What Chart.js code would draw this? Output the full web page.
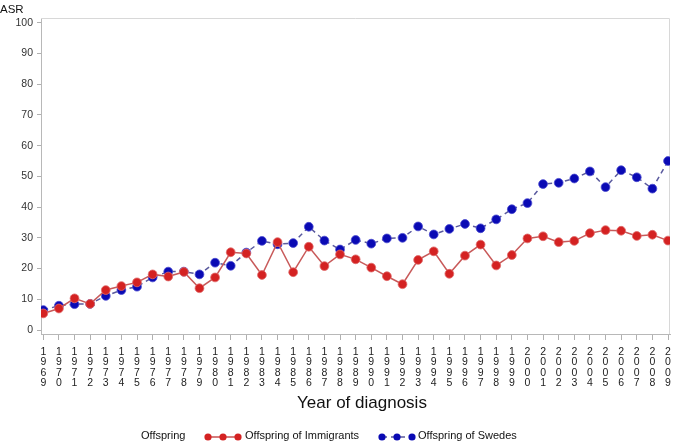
<!DOCTYPE html>
<html>
<head>
<meta charset="utf-8">
<script src="https://cdn.jsdelivr.net/npm/chart.js@4.4.1/dist/chart.umd.min.js"></script>
<style>
  html, body { margin: 0; padding: 0; background: #fff; }
  #wrap { position: relative; width: 675px; height: 443px; overflow: hidden; }
  #chart { position: absolute; left: 0; top: 0; }
  .txt { position: absolute; font-family: "Liberation Sans", Arial, sans-serif; color: #111; white-space: nowrap; }
  #asr { left: 0; top: 3px; font-size: 11.5px; }
  #xtitle { left: 0; width: 724px; top: 393px; text-align: center; font-size: 17px; }
  .leg { top: 429px; font-size: 11px; }
  .legsym { position: absolute; top: 431px; }
</style>
</head>
<body>
<div id="wrap">
  <canvas id="chart" width="675" height="443"></canvas>
  <div class="txt" id="asr">ASR</div>
  <div class="txt" id="xtitle">Year of diagnosis</div>
  <div class="txt leg" style="left:141px">Offspring</div>
  <svg class="legsym" style="left:203px" width="40" height="12">
    <line x1="5" y1="6" x2="35" y2="6" stroke="#c85050" stroke-width="1.5"/>
    <circle cx="5" cy="6" r="3.6" fill="#d42222"/>
    <circle cx="20" cy="6" r="3.6" fill="#d42222"/>
    <circle cx="35" cy="6" r="3.6" fill="#d42222"/>
  </svg>
  <div class="txt leg" style="left:245px">Offspring of Immigrants</div>
  <svg class="legsym" style="left:377px" width="40" height="12">
    <line x1="5" y1="6" x2="35" y2="6" stroke="#5a5a9a" stroke-width="1.5" stroke-dasharray="5,4"/>
    <circle cx="5" cy="6" r="3.6" fill="#0a0ab4"/>
    <circle cx="20" cy="6" r="3.6" fill="#0a0ab4"/>
    <circle cx="35" cy="6" r="3.6" fill="#0a0ab4"/>
  </svg>
  <div class="txt leg" style="left:418px">Offspring of Swedes</div>
</div>
<script>
// years of diagnosis
var years = [];
for (var y = 1969; y <= 2009; y++) years.push(y);

// age standardised rates
var immigrants = [5.4, 7.0, 10.3, 8.5, 13.0, 14.3, 15.5, 18.1, 17.4, 18.9,
                  13.6, 17.1, 25.3, 24.9, 17.9, 28.6, 18.8, 27.1, 20.8, 24.6,
                  23.0, 20.3, 17.5, 14.9, 22.8, 25.6, 18.3, 24.2, 27.8, 21.0,
                  24.4, 29.8, 30.5, 28.6, 29.0, 31.5, 32.5, 32.3, 30.6, 31.0, 29.1];
var swedes = [6.5, 7.9, 8.4, 8.5, 11.1, 13.0, 14.1, 17.1, 19.0, 19.0,
              18.1, 21.9, 20.9, 25.2, 29.0, 27.9, 28.3, 33.6, 29.1, 26.2,
              29.3, 28.1, 29.8, 30.0, 33.7, 31.1, 32.9, 34.5, 33.1, 36.0,
              39.3, 41.3, 47.5, 47.9, 49.3, 51.6, 46.5, 52.0, 49.7, 46.0, 55.0];

var yTicks = [0, 10, 20, 30, 40, 50, 60, 70, 80, 90, 100];

function pairs(vals) {
  var out = [];
  for (var i = 0; i < years.length; i++) out.push({x: years[i], y: vals[i]});
  return out;
}

// light frame round the plot area
var framePlugin = {
  id: 'frame',
  beforeDatasetsDraw: function(chart) {
    var a = chart.chartArea, c = chart.ctx;
    c.save();
    c.strokeStyle = '#d8d8d8';
    c.lineWidth = 1;
    c.beginPath();
    c.moveTo(a.left, a.top + 0.5);
    c.lineTo(a.right - 0.5, a.top + 0.5);
    c.lineTo(a.right - 0.5, a.bottom);
    c.stroke();
    c.restore();
  }
};

var ctx = document.getElementById('chart').getContext('2d');
var myChart = new Chart(ctx, {
  type: 'line',
  data: {
    datasets: [
      {
        label: 'Offspring of Immigrants',
        data: pairs(immigrants),
        borderColor: '#c85a5a',
        borderWidth: 1.5,
        backgroundColor: '#d42222',
        pointBackgroundColor: '#d42222',
        pointBorderColor: '#e06a6a',
        pointBorderWidth: 0.8,
        pointRadius: 4.4,
        tension: 0
      },
      {
        label: 'Offspring of Swedes',
        data: pairs(swedes),
        borderColor: '#5a5a9e',
        borderWidth: 1.5,
        borderDash: [5, 4],
        backgroundColor: '#0a0ab4',
        pointBackgroundColor: '#0a0ab4',
        pointBorderColor: '#4a4ad0',
        pointBorderWidth: 0.8,
        pointRadius: 4.4,
        tension: 0
      }
    ]
  },
  options: {
    responsive: false,
    animation: false,
    layout: { autoPadding: false, padding: { left: 0, top: 18, right: 5, bottom: 49 } },
    plugins: { legend: { display: false }, tooltip: { enabled: false } },
    scales: {
      x: {
        type: 'linear',
        min: 1968.853,
        max: 2009.128,
        afterFit: function(scale) {
          scale.height = 60;
          scale.paddingLeft = 0;
          scale.paddingRight = 0;
        },
        afterBuildTicks: function(scale) {
          scale.ticks = years.map(function(v) { return {value: v}; });
        },
        ticks: {
          autoSkip: false,
          maxRotation: 0,
          padding: 7,
          color: '#222',
          font: { family: '"Liberation Sans", Arial', size: 10.5, lineHeight: 0.98 },
          callback: function(v) { return String(v).split(''); }
        },
        grid: { drawOnChartArea: false, tickLength: 6, color: '#b0b0b0' },
        border: { color: '#b8b8b8' }
      },
      y: {
        min: -1.3,
        max: 101.53,
        afterFit: function(scale) { scale.width = 41; },
        afterBuildTicks: function(scale) {
          scale.ticks = yTicks.map(function(v) { return {value: v}; });
        },
        ticks: {
          padding: 4,
          color: '#333',
          font: { family: '"Liberation Sans", Arial', size: 10.5 }
        },
        grid: { drawOnChartArea: false, tickLength: 4, color: '#b0b0b0' },
        border: { color: '#b8b8b8' }
      }
    }
  },
  plugins: [framePlugin]
});
</script>
</body>
</html>
